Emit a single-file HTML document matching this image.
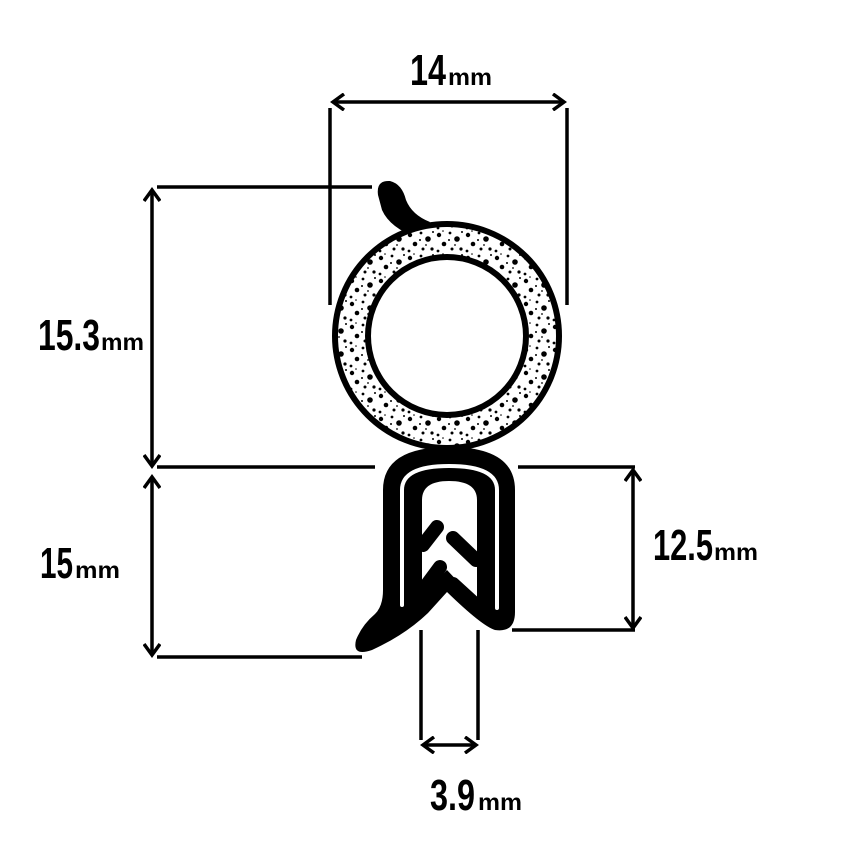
<!DOCTYPE html>
<html><head><meta charset="utf-8"><style>
html,body{margin:0;padding:0;background:#fff;}
svg{display:block;}
text{font-family:"Liberation Sans Narrow","Liberation Sans",sans-serif;font-weight:bold;fill:#000;}
</style></head><body>
<svg width="850" height="850" viewBox="0 0 850 850" xmlns="http://www.w3.org/2000/svg">
<defs>
<pattern id="foam" width="29" height="23" patternUnits="userSpaceOnUse">
<rect width="29" height="23" fill="#fff"/>
<circle cx="4" cy="5" r="2.2" fill="#000"/>
<circle cx="15" cy="3" r="1.4" fill="#000"/>
<circle cx="22" cy="9" r="2.8" fill="#000"/>
<circle cx="26" cy="19" r="1.6" fill="#000"/>
<circle cx="9" cy="14" r="2.3" fill="#000"/>
<circle cx="17" cy="19" r="1.5" fill="#000"/>
<circle cx="14" cy="10" r="1" fill="#000"/>
<circle cx="3" cy="21" r="1.4" fill="#000"/>
<circle cx="27" cy="2" r="1" fill="#000"/>
<circle cx="20" cy="15" r="0.9" fill="#000"/>
<circle cx="8" cy="1" r="0.8" fill="#000"/>
</pattern>
<marker id="ah" markerWidth="16" markerHeight="18" refX="13" refY="9" orient="auto-start-reverse" markerUnits="userSpaceOnUse">
<path d="M2,1 L13,9 L2,17" fill="none" stroke="#000" stroke-width="3.5" stroke-linejoin="miter"/>
</marker>
</defs>

<g stroke="#000" stroke-width="3.5" fill="none">
<line x1="330" y1="108" x2="330" y2="305"/>
<line x1="567" y1="108" x2="567" y2="305"/>
<line x1="333" y1="102" x2="564" y2="102" marker-start="url(#ah)" marker-end="url(#ah)"/>
<line x1="157" y1="187" x2="372" y2="187"/>
<line x1="157" y1="467" x2="375" y2="467"/>
<line x1="152" y1="190" x2="152" y2="466" marker-start="url(#ah)" marker-end="url(#ah)"/>
<line x1="152" y1="477" x2="152" y2="655" marker-start="url(#ah)" marker-end="url(#ah)"/>
<line x1="157" y1="657" x2="362" y2="657"/>
<line x1="518" y1="467" x2="635" y2="467"/>
<line x1="512" y1="630" x2="635" y2="630"/>
<line x1="633" y1="470" x2="633" y2="628" marker-start="url(#ah)" marker-end="url(#ah)"/>
<line x1="421" y1="630" x2="421" y2="740"/>
<line x1="478" y1="630" x2="478" y2="740"/>
<line x1="423" y1="745" x2="476" y2="745" marker-start="url(#ah)" marker-end="url(#ah)"/>
</g>

<path d="M378,195 Q376,180 390,181 Q402,184 406,200 Q412,215 430,222 L418,238 Q390,228 382,210 Z" fill="#000"/>

<circle cx="447" cy="336" r="112" fill="url(#foam)" stroke="#000" stroke-width="6"/>
<circle cx="447" cy="336" r="79" fill="#fff" stroke="#000" stroke-width="6"/>

<path d="M383,590 L383,490 Q383,447 449,447 Q515,447 515,490 L515,612 Q515,633 495,630 Q482,626 447,592 L428,613 Q405,635 372,650 Q352,657 356,640 Q362,625 375,614 Q383,606 383,590 Z" fill="#000"/>
<path d="M402,605 L402,490 Q402,466 449,466 Q497,466 497,490 L497,608" fill="none" stroke="#fff" stroke-width="4" stroke-linecap="round"/>
<path d="M422,595 L422,500 Q422,481 449,481 Q477,481 477,500 L477,602 L447,570 Z" fill="#fff"/>
<g stroke="#000" stroke-width="14" stroke-linecap="round" fill="none">
<line x1="437" y1="527" x2="423" y2="545"/>
<line x1="453" y1="538" x2="476" y2="560"/>
<line x1="440" y1="567" x2="423" y2="590"/>
<line x1="453" y1="584" x2="476" y2="605"/>
</g>

<text x="410" y="85" font-size="44" textLength="36" lengthAdjust="spacingAndGlyphs">14</text>
<text x="448" y="85" font-size="23" textLength="44" lengthAdjust="spacingAndGlyphs">mm</text>
<text x="38" y="350" font-size="44" textLength="62" lengthAdjust="spacingAndGlyphs">15.3</text>
<text x="101" y="350" font-size="23" textLength="43" lengthAdjust="spacingAndGlyphs">mm</text>
<text x="40" y="578" font-size="44" textLength="33" lengthAdjust="spacingAndGlyphs">15</text>
<text x="75" y="578" font-size="23" textLength="45" lengthAdjust="spacingAndGlyphs">mm</text>
<text x="653" y="560" font-size="44" textLength="60" lengthAdjust="spacingAndGlyphs">12.5</text>
<text x="714" y="560" font-size="23" textLength="44" lengthAdjust="spacingAndGlyphs">mm</text>
<text x="430" y="810" font-size="44" textLength="45" lengthAdjust="spacingAndGlyphs">3.9</text>
<text x="478" y="810" font-size="23" textLength="44" lengthAdjust="spacingAndGlyphs">mm</text>
</svg>
</body></html>
